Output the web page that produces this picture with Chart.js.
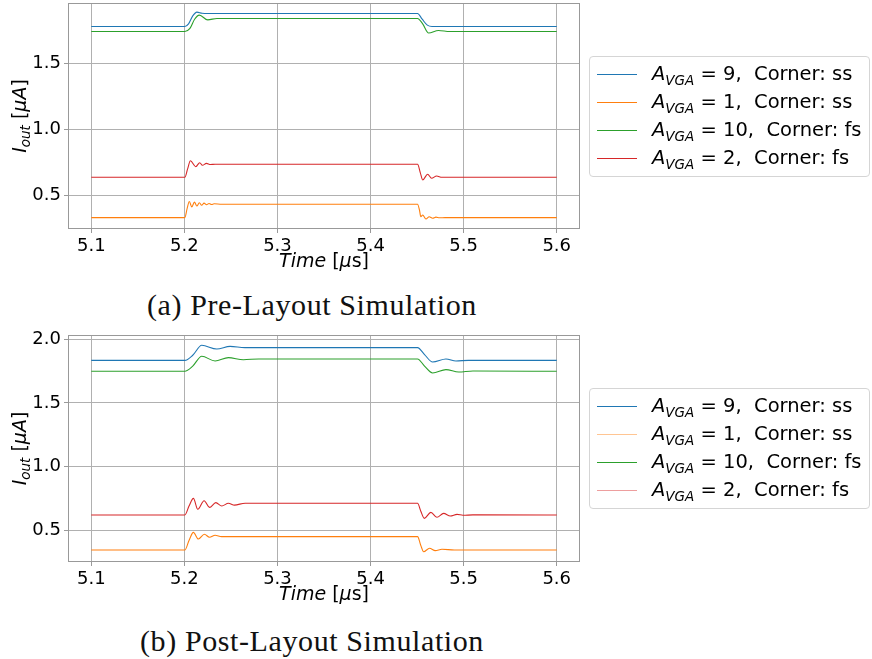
<!DOCTYPE html>
<html>
<head>
<meta charset="utf-8">
<script src="https://cdn.jsdelivr.net/npm/chart.js@4.4.0/dist/chart.umd.min.js"></script>
<style>
  body { margin: 0; background: #fff; }
  #fig { position: relative; width: 872px; height: 659px; font-family: "DejaVu Sans", sans-serif; color: #000; }
  canvas { position: absolute; left: 0; }
  .legend { position: absolute; left: 589px; width: 281px; box-sizing: border-box; border: 1px solid #d5d5d5; border-radius: 4px; background: #fff; padding: 3px 0 4px 0; }
  .legend div { position: relative; height: 28px; line-height: 28px; font-size: 19.5px; white-space: nowrap; padding-left: 62px; }
  .legend .ln { position: absolute; left: 7px; top: 14px; width: 40px; height: 1px; }
  .legend sub { font-size: 13.5px; vertical-align: -5px; line-height: 0; }
  .caption { position: absolute; left: 12px; width: 600px; text-align: center; font-family: "Liberation Serif", serif; font-size: 30px; letter-spacing: 0.6px; color: #111; }
</style>
</head>
<body>
<div id="fig">
  <canvas id="pre" width="590" height="272" style="top:0px"></canvas>
  <div class="legend" id="preLegend" style="top:56px"></div>
  <div class="caption" style="top:288px">(a) Pre-Layout Simulation</div>
  <canvas id="post" width="590" height="282" style="top:322px"></canvas>
  <div class="legend" id="postLegend" style="top:388px"></div>
  <div class="caption" style="top:624px">(b) Post-Layout Simulation</div>
</div>
<script>
// legend entries
const gains = [9, 1, 10, 2];
const corners = ['ss', 'ss', 'fs', 'fs'];
const colors = ['#1f77b4', '#ff7f0e', '#2ca02c', '#d62728'];

// axis ticks
const xTicks = [5.1, 5.2, 5.3, 5.4, 5.5, 5.6];
const preYTicks = [0.5, 1.0, 1.5];
const postYTicks = [0.5, 1.0, 1.5, 2.0];

// (a) pre-layout, time [us] / current [uA]
const preT9 = [5.1, 5.2005, 5.2045, 5.209, 5.2135, 5.219, 5.226, 5.4505, 5.4555, 5.461, 5.466, 5.6];
const preV9 = [1.780, 1.780, 1.800, 1.860, 1.889, 1.880, 1.878, 1.878, 1.835, 1.790, 1.780, 1.780];
const preT1 = [5.1, 5.2005, 5.203, 5.2053, 5.208, 5.2108, 5.2134, 5.2161, 5.2186, 5.2211, 5.2238, 5.2265, 5.2292, 5.2319, 5.24,
               5.4505, 5.4525, 5.454, 5.456, 5.4595, 5.463, 5.4667, 5.4703, 5.474, 5.48, 5.6];
const preV1 = [0.330, 0.330, 0.400, 0.452, 0.412, 0.448, 0.418, 0.443, 0.424, 0.440, 0.428, 0.437, 0.430, 0.435, 0.432,
               0.432, 0.390, 0.337, 0.350, 0.320, 0.337, 0.326, 0.334, 0.329, 0.330, 0.330];
const preT10 = [5.1, 5.2005, 5.206, 5.211, 5.2161, 5.2251, 5.235, 5.4505, 5.456, 5.4624, 5.473, 5.485, 5.6];
const preV10 = [1.742, 1.742, 1.765, 1.835, 1.866, 1.830, 1.841, 1.841, 1.800, 1.730, 1.750, 1.742, 1.742];
const preT2 = [5.1, 5.2005, 5.2035, 5.2065, 5.2123, 5.2165, 5.2194, 5.2237, 5.228, 5.233,
               5.4505, 5.4535, 5.456, 5.4613, 5.4656, 5.471, 5.4767, 5.6];
const preV2 = [0.636, 0.636, 0.700, 0.762, 0.717, 0.747, 0.727, 0.742, 0.733, 0.735,
               0.735, 0.670, 0.616, 0.659, 0.629, 0.646, 0.636, 0.636];

// (b) post-layout
const postT9 = [5.1, 5.2005, 5.209, 5.2187, 5.2348, 5.2491, 5.265, 5.4505, 5.458, 5.4667, 5.481, 5.4918, 5.505, 5.6];
const postV9 = [1.835, 1.835, 1.875, 1.953, 1.924, 1.945, 1.935, 1.935, 1.880, 1.822, 1.846, 1.830, 1.835, 1.835];
const postT1 = [5.1, 5.2005, 5.205, 5.2097, 5.215, 5.2215, 5.227, 5.233, 5.24,
                5.4505, 5.454, 5.457, 5.4634, 5.4695, 5.4767, 5.49, 5.6];
const postV1 = [0.345, 0.345, 0.420, 0.484, 0.432, 0.469, 0.445, 0.461, 0.450,
                0.450, 0.380, 0.332, 0.359, 0.340, 0.351, 0.345, 0.345];
const postT10 = [5.1, 5.2005, 5.209, 5.2187, 5.233, 5.2473, 5.2634, 5.28, 5.4505, 5.458, 5.4667, 5.481, 5.4946, 5.51, 5.6];
const postV10 = [1.749, 1.749, 1.790, 1.867, 1.830, 1.856, 1.840, 1.846, 1.846, 1.790, 1.736, 1.762, 1.743, 1.751, 1.749];
const postT2 = [5.1, 5.2005, 5.205, 5.2097, 5.2144, 5.2212, 5.227, 5.2338, 5.2402, 5.2473, 5.2538, 5.2653, 5.28,
                5.4505, 5.454, 5.4577, 5.4648, 5.4713, 5.4785, 5.4857, 5.4929, 5.4993, 5.51, 5.6];
const postV2 = [0.620, 0.620, 0.690, 0.751, 0.665, 0.732, 0.680, 0.717, 0.691, 0.712, 0.698, 0.713, 0.712,
                0.712, 0.650, 0.594, 0.641, 0.602, 0.633, 0.612, 0.625, 0.618, 0.621, 0.620];

const pts = (t, v) => t.map((x, i) => ({ x: x, y: v[i] }));

function drawRuns(ctx, runs, x, y) {
  let w = 0;
  runs.forEach(r => { ctx.font = r[1]; w += ctx.measureText(r[0]).width; });
  let cx = x - w / 2;
  runs.forEach(r => {
    ctx.font = r[1];
    ctx.fillText(r[0], cx, y + (r[2] || 0));
    cx += ctx.measureText(r[0]).width;
  });
}

const F = '"DejaVu Sans"';
const xTitle = [['Time', 'italic 19px ' + F], [' [', '19px ' + F], ['\u03bc', 'italic 19px ' + F], ['s]', '19px ' + F]];
const yTitle = [['I', 'italic 19px ' + F], ['out', 'italic 13.5px ' + F, 4], [' [', '19px ' + F], ['\u03bcA', 'italic 19px ' + F], [']', '19px ' + F]];

const framePlugin = {
  id: 'frame',
  afterDatasetsDraw(chart) {
    const a = chart.chartArea, ctx = chart.ctx;
    ctx.save();
    ctx.strokeStyle = '#999';
    ctx.lineWidth = 1;
    ctx.strokeRect(Math.round(a.left) + 0.5, Math.round(a.top) + 0.5, Math.round(a.right - a.left) - 1, Math.round(a.bottom - a.top) - 1);
    ctx.restore();
  },
  afterDraw(chart) {
    const a = chart.chartArea, ctx = chart.ctx;
    ctx.save();
    ctx.fillStyle = '#000';
    ctx.textBaseline = 'alphabetic';
    drawRuns(ctx, xTitle, (a.left + a.right) / 2, a.bottom + 38);
    ctx.translate(26, (a.top + a.bottom) / 2);
    ctx.rotate(-Math.PI / 2);
    drawRuns(ctx, yTitle, 0, 0);
    ctx.restore();
  }
};

function buildLegend(el, alphas) {
  gains.forEach((g, i) => {
    const row = document.createElement('div');
    const ln = document.createElement('span');
    ln.className = 'ln';
    ln.style.background = colors[i];
    ln.style.opacity = alphas[i];
    row.appendChild(ln);
    row.insertAdjacentHTML('beforeend', '<i>A</i><sub><i>VGA</i></sub> = ' + g + ',&nbsp; Corner: ' + corners[i]);
    el.appendChild(row);
  });
}

function makeChart(id, series, yMin, yMax, yTicks, areaTop, areaBottom) {
  const canvas = document.getElementById(id);
  return new Chart(canvas, {
    type: 'line',
    data: {
      datasets: series.map((s, i) => ({
        label: 'A_VGA = ' + gains[i] + ',  Corner: ' + corners[i],
        data: s,
        borderColor: colors[i],
        borderWidth: 1.1,
        pointRadius: 0,
        cubicInterpolationMode: 'monotone',
        fill: false
      }))
    },
    options: {
      responsive: false,
      animation: false,
      devicePixelRatio: 1,
      layout: { padding: { top: areaTop, right: 10, left: 0, bottom: 0 } },
      plugins: { legend: { display: false }, tooltip: { enabled: false } },
      scales: {
        x: {
          type: 'linear', min: 5.075, max: 5.625,
          afterBuildTicks: sc => { sc.ticks = xTicks.map(v => ({ value: v })); },
          afterFit: sc => { sc.height = canvas.height - areaBottom; sc.paddingLeft = 0; sc.paddingRight = 0; },
          ticks: { color: '#000', font: { family: 'DejaVu Sans', size: 18 }, padding: 3, maxRotation: 0, callback: v => v.toFixed(1) },
          grid: { color: '#b0b0b0', lineWidth: 1, tickLength: 4, tickColor: '#999' },
          border: { display: false }
        },
        y: {
          min: yMin, max: yMax,
          afterBuildTicks: sc => { sc.ticks = yTicks.map(v => ({ value: v })); },
          afterFit: sc => { sc.width = 68; sc.paddingTop = 0; sc.paddingBottom = 0; },
          ticks: { color: '#000', font: { family: 'DejaVu Sans', size: 18 }, padding: 3, callback: v => v.toFixed(1) },
          grid: { color: '#b0b0b0', lineWidth: 1, tickLength: 4, tickColor: '#999' },
          border: { display: false }
        }
      }
    },
    plugins: [framePlugin]
  });
}

makeChart('pre', [pts(preT9, preV9), pts(preT1, preV1), pts(preT10, preV10), pts(preT2, preV2)], 0.244, 1.958, preYTicks, 3, 229);
makeChart('post', [pts(postT9, postV9), pts(postT1, postV1), pts(postT10, postV10), pts(postT2, postV2)], 0.251, 2.034, postYTicks, 13, 240);
buildLegend(document.getElementById('preLegend'), [1, 1, 1, 1]);
buildLegend(document.getElementById('postLegend'), [1, 0.45, 1, 0.45]);
</script>
</body>
</html>
